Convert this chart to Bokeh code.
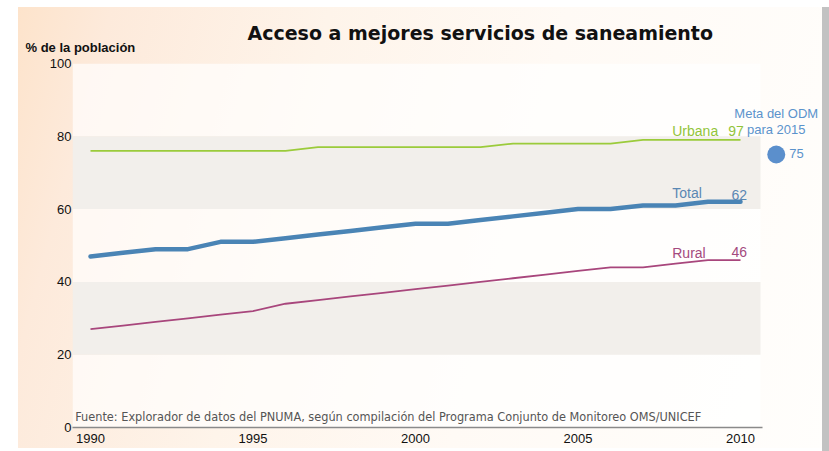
from bokeh.plotting import figure
from bokeh.models import Range1d, FixedTicker, Label, Title
from bokeh.embed import file_html
from bokeh.resources import INLINE

# ---- data ----
years = list(range(1990, 2011))
urbana = [76, 76, 76, 76, 76, 76, 76, 77, 77, 77, 77, 77, 77, 78, 78, 78, 78, 79, 79, 79, 79]
total = [47, 48, 49, 49, 51, 51, 52, 53, 54, 55, 56, 56, 57, 58, 59, 60, 60, 61, 61, 62, 62]
rural = [27, 28, 29, 30, 31, 32, 34, 35, 36, 37, 38, 39, 40, 41, 42, 43, 44, 44, 45, 46, 46]
series_names = ["Urbana", "Total", "Rural"]
end_labels = ["97", "62", "46"]
meta_value = 75
meta_label = "75"
x_ticks = [1990, 1995, 2000, 2005, 2010]
y_ticks = [0, 20, 40, 60, 80, 100]
gray_bands = [(60, 80), (20, 40)]
light_bands = [(80, 100), (40, 60), (0, 20)]

W, H = 829, 451
p = figure(width=W, height=H, output_backend="svg", toolbar_location=None,
           x_range=Range1d(1989.446, 2012.738), y_range=Range1d(0, 100),
           min_border_left=72, min_border_right=0, min_border_top=63, min_border_bottom=24)
p.outline_line_color = None
p.border_fill_color = None
p.background_fill_color = None
p.grid.visible = False
p.styles = {
    "background": (
        "linear-gradient(to bottom, #ffffff 7px, rgba(255,255,255,0) 7px), "
        "linear-gradient(to right, #ffffff 18px, rgba(255,255,255,0) 18px, rgba(255,255,255,0) 822px, #c2c2c2 822px), "
        "linear-gradient(to top, #ffffff 3px, rgba(255,255,255,0) 3px), "
        "linear-gradient(105deg, #fde2c8 0%, #fdeadb 12%, #fef4ea 35%, #fffaf5 60%, #fffefc 100%)"
    )
}

band_left, band_right = 1989.446, 2010.615
p.quad(left=band_left, right=band_right,
       bottom=[b[0] for b in light_bands], top=[b[1] for b in light_bands],
       fill_color="white", fill_alpha=0.68, line_color=None)
p.quad(left=band_left, right=band_right,
       bottom=[b[0] for b in gray_bands], top=[b[1] for b in gray_bands],
       fill_color="#f2efeb", fill_alpha=1, line_color=None)

# lines
p.line(years, urbana, line_color="#9bcb3b", line_width=1.8, line_join="round")
p.line(years, rural, line_color="#a8467c", line_width=1.8, line_join="round")
p.line(years, total, line_color="#4a84b5", line_width=4.5, line_join="round", line_cap="round")

font = "Liberation Sans"
colors = ["#92c43a", "#5a87b3", "#a44a7e"]
ends = [urbana[-1], total[-1], rural[-1]]
name_off = [1, 1, -1]
num_off = [4, 2, 3]
num_x = [2010.1, 2010.2, 2010.2]
for name, lab, v, c, no, uo, nx in zip(series_names, end_labels, ends, colors, name_off, num_off, num_x):
    p.add_layout(Label(x=2007.9, y=v, text=name, text_color=c, text_font=font,
                       text_font_size="14px", text_baseline="bottom", y_offset=no))
    p.add_layout(Label(x=nx, y=v, text=lab, text_color=c, text_font=font,
                       text_font_size="14px", text_align="right", text_baseline="bottom", y_offset=uo))

# Meta del ODM
p.scatter([2011.1], [meta_value], size=18, color="#5b8fcc", line_color=None)
p.add_layout(Label(x=2011.1, y=86.3, text="Meta del ODM", text_color="#5b93cc", text_font=font,
                   text_font_size="13px", text_align="center", text_baseline="middle"))
p.add_layout(Label(x=2011.1, y=81.9, text="para 2015", text_color="#5b93cc", text_font=font,
                   text_font_size="13px", text_align="center", text_baseline="middle"))
p.add_layout(Label(x=2011.1, y=meta_value, x_offset=13, text=meta_label, text_color="#5b93cc",
                   text_font=font, text_font_size="13px", text_baseline="middle", y_offset=1))

# y label and title (above panels)
p.add_layout(Title(text="% de la población", align="left", offset=-47, standoff=18,
                   text_font=font, text_font_style="bold", text_font_size="13px",
                   text_color="#111111"), "above")
p.add_layout(Title(text="Acceso a mejores servicios de saneamiento", align="left", offset=175,
                   standoff=-30, text_font="DejaVu Sans", text_font_style="bold",
                   text_font_size="19px", text_color="#111111"), "above")

# source
p.add_layout(Label(x=1989.53, y=3.0, text="Fuente: Explorador de datos del PNUMA, según compilación del Programa Conjunto de Monitoreo OMS/UNICEF",
                   text_font="Liberation Sans Narrow, DejaVu Sans Condensed", text_font_size="12.6px",
                   text_baseline="middle", text_color="#555555"))

# axes
xa = p.xaxis[0]
xa.ticker = FixedTicker(ticks=x_ticks)
xa.bounds = (1989.385, 2010.677)
xa.axis_line_color = "#8a8a8a"
xa.axis_line_width = 1.5
xa.major_tick_line_color = None
xa.minor_tick_line_color = None
xa.major_tick_out = 0
xa.major_tick_in = 0
xa.minor_tick_out = 0
xa.minor_tick_in = 0
xa.major_label_standoff = 6
xa.major_label_text_font = font
xa.major_label_text_font_size = "13px"
xa.major_label_text_color = "#111111"

ya = p.yaxis[0]
ya.ticker = FixedTicker(ticks=y_ticks)
ya.axis_line_color = None
ya.major_tick_line_color = None
ya.minor_tick_line_color = None
ya.major_tick_out = 0
ya.major_tick_in = 0
ya.minor_tick_out = 0
ya.minor_tick_in = 0
ya.major_label_standoff = 1
ya.major_label_text_font = font
ya.major_label_text_font_size = "13px"
ya.major_label_text_color = "#111111"

open("out.html", "w").write(file_html(p, INLINE))
